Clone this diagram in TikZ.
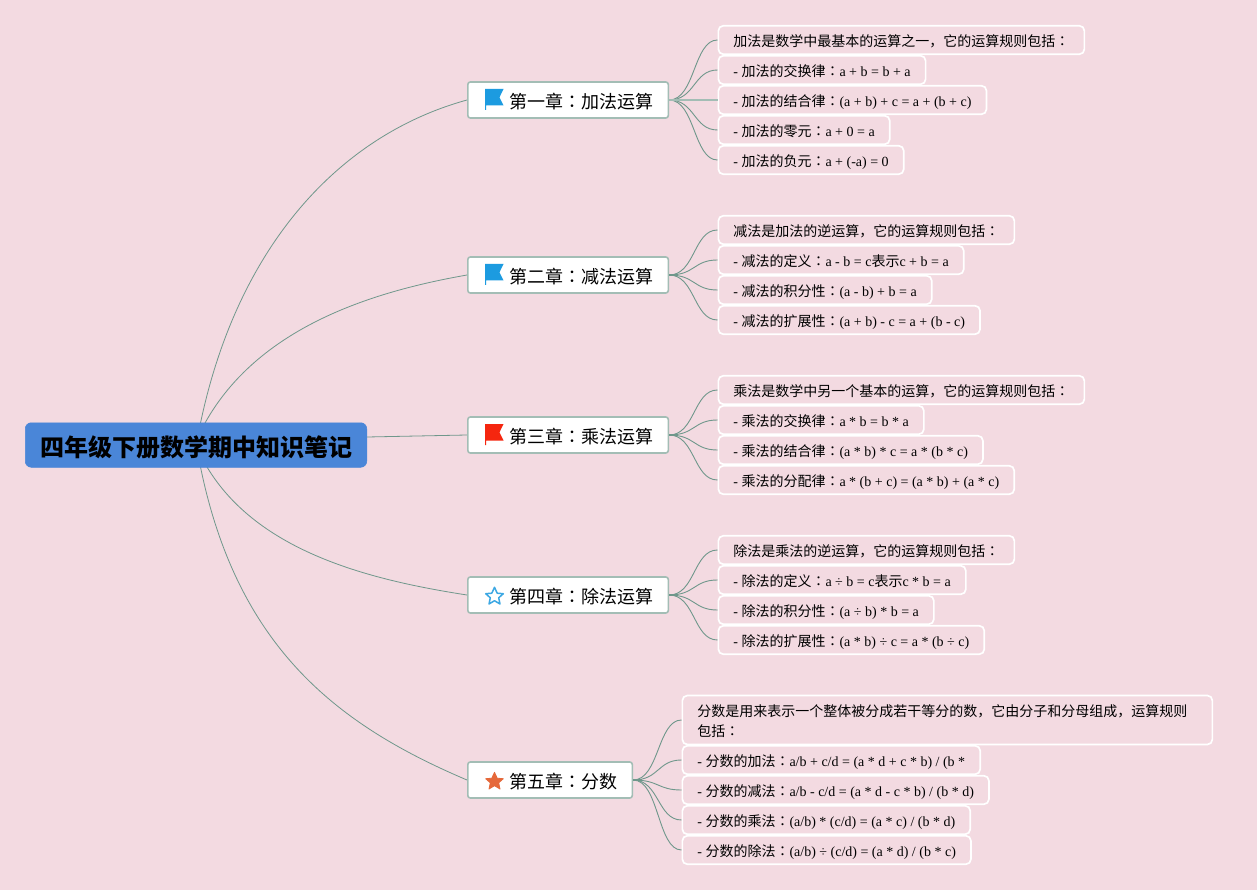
\documentclass[tikz,border=0pt]{standalone}
\usepackage{fontspec}
\setmainfont{Liberation Serif}
\newfontfamily\cjksc{Noto Sans CJK SC}
\newfontfamily\cjktc{Noto Sans CJK TC}
\newcommand\zh[1]{{\cjksc #1}}
\newcommand\cln{{\cjktc ：}}
\definecolor{bgpink}{HTML}{F3DAE1}
\definecolor{rootblue}{HTML}{4A86D8}
\definecolor{chborder}{HTML}{A3BDB5}
\definecolor{linkc}{HTML}{6F978B}
\definecolor{flagblue}{HTML}{1C9BE0}
\definecolor{flagred}{HTML}{F5260F}
\definecolor{staror}{HTML}{E5683A}
\definecolor{starblue}{HTML}{3DA8E3}
\tikzset{
  rootbox/.style={draw=rootblue,fill=rootblue,rounded corners=6pt,line width=0.5pt,inner sep=0pt,minimum height=44.5pt,minimum width=341.5pt,font=\fontsize{24}{28}\selectfont\cjksc\bfseries,text height=24pt,text depth=2pt},
  chbox/.style={draw=chborder,fill=white,rounded corners=2.5pt,line width=1.6pt,anchor=west,minimum height=36pt,inner sep=0pt,font=\fontsize{18}{22}\selectfont\cjksc,text height=19pt,text depth=2.4pt},
  leaf/.style={draw=white,rounded corners=5pt,line width=1.7pt,anchor=west,minimum height=28.5pt,inner xsep=15pt,inner ysep=0pt,font=\fontsize{14}{20}\selectfont,text height=15.5pt,text depth=2pt},
  tallleaf/.style={draw=white,rounded corners=5pt,line width=1.7pt,anchor=west,minimum height=49pt,inner xsep=15pt,inner ysep=0pt,align=left,text width=500pt,font=\fontsize{14}{20}\selectfont},
  link/.style={draw=linkc,line width=0.8pt},
  sublink/.style={draw=linkc,line width=0.9pt},
  stub/.style={draw=linkc,line width=1.6pt},
  straight/.style={draw=chborder,line width=1.5pt},
  pics/flagicon/.style={code={
    \fill[#1] (0,0) -- (18.5,0) -- (14.5,8.3) -- (18.5,16.5) -- (1.2,16.5) -- (1.2,21) -- (0,21) -- cycle;
  }},
  pics/staricon/.style={code={
    \path[#1] (0,-9.2) -- (2.7,-3.3) -- (8.8,-2.8) -- (4.2,1.3) -- (5.5,7.5) -- (0,4.2) -- (-5.5,7.5) -- (-4.2,1.3) -- (-8.8,-2.8) -- (-2.7,-3.3) -- cycle;
  }}
}
\begin{document}
\begin{tikzpicture}[x=1pt,y=-1pt]
\fill[bgpink] (0,0) rectangle (1257,890);
\useasboundingbox (0,0) rectangle (1257,890);
\coordinate (ra) at (200.5,423);
\coordinate (rb) at (205,423);
\coordinate (rc) at (207,467);
\coordinate (rd) at (200.5,467);
\coordinate (re) at (367,437);
\coordinate (c1w) at (467,100);
\coordinate (c2w) at (467,275);
\coordinate (c3w) at (467,435);
\coordinate (c4w) at (467,595);
\coordinate (c5w) at (467,780);
\draw[link] (ra) .. controls (238,245) and (340,135) .. (c1w);
\draw[link] (rb) .. controls (258,328) and (370,292) .. (c2w);
\draw[link] (re) -- (c3w);
\draw[link] (rc) .. controls (258,552) and (370,580) .. (c4w);
\draw[link] (rd) .. controls (238,650) and (340,726) .. (c5w);

\node[rootbox] (root) at (196,445) {四年级下册数学期中知识笔记};

\node[chbox] (c1) at (467,100) {\hspace{42pt}第一章\cln 加法运算\hspace{14.5pt}\null};
\node[chbox] (c2) at (467,275) {\hspace{42pt}第二章\cln 减法运算\hspace{14.5pt}\null};
\node[chbox] (c3) at (467,435) {\hspace{42pt}第三章\cln 乘法运算\hspace{14.5pt}\null};
\node[chbox] (c4) at (467,595) {\hspace{42pt}第四章\cln 除法运算\hspace{14.5pt}\null};
\node[chbox] (c5) at (467,780) {\hspace{42pt}第五章\cln 分数\hspace{14.5pt}\null};

\pic at (485,89) {flagicon=flagblue};
\pic at (485,264) {flagicon=flagblue};
\pic at (485,424) {flagicon=flagred};
\pic at (494.5,596.5) {staricon={draw=starblue,line width=1.5pt,line join=round}};
\pic at (494.5,781.5) {staricon={fill=staror,draw=staror,line width=0.8pt,line join=round}};

\node[leaf] (a1) at (717.5,40) {\zh{加法是数学中最基本的运算之一，它的运算规则包括}\cln};
\node[leaf] (a2) at (717.5,70) {- \zh{加法的交换律}\cln a + b = b + a};
\node[leaf] (a3) at (717.5,100) {- \zh{加法的结合律}\cln (a + b) + c = a + (b + c)};
\node[leaf] (a4) at (717.5,130) {- \zh{加法的零元}\cln a + 0 = a};
\node[leaf] (a5) at (717.5,160) {- \zh{加法的负元}\cln a + (-a) = 0};
\node[leaf] (b1) at (717.5,230) {\zh{减法是加法的逆运算，它的运算规则包括}\cln};
\node[leaf] (b2) at (717.5,260) {- \zh{减法的定义}\cln a - b = c\zh{表示}c + b = a};
\node[leaf] (b3) at (717.5,290) {- \zh{减法的积分性}\cln (a - b) + b = a};
\node[leaf] (b4) at (717.5,320) {- \zh{减法的扩展性}\cln (a + b) - c = a + (b - c)};
\node[leaf] (d1) at (717.5,390) {\zh{乘法是数学中另一个基本的运算，它的运算规则包括}\cln};
\node[leaf] (d2) at (717.5,420) {- \zh{乘法的交换律}\cln a * b = b * a};
\node[leaf] (d3) at (717.5,450) {- \zh{乘法的结合律}\cln (a * b) * c = a * (b * c)};
\node[leaf] (d4) at (717.5,480) {- \zh{乘法的分配律}\cln a * (b + c) = (a * b) + (a * c)};
\node[leaf] (e1) at (717.5,550) {\zh{除法是乘法的逆运算，它的运算规则包括}\cln};
\node[leaf] (e2) at (717.5,580) {- \zh{除法的定义}\cln a ÷ b = c\zh{表示}c * b = a};
\node[leaf] (e3) at (717.5,610) {- \zh{除法的积分性}\cln (a ÷ b) * b = a};
\node[leaf] (e4) at (717.5,640) {- \zh{除法的扩展性}\cln (a * b) ÷ c = a * (b ÷ c)};
\node[tallleaf] (f1) at (681.5,720) {\rule{0pt}{14.5pt}\zh{分数是用来表示一个整体被分成若干等分的数，它由分子和分母组成，运算规则}\\\zh{包括}\cln};
\node[leaf] (f2) at (681.5,760) {- \zh{分数的加法}\cln a/b + c/d = (a * d + c * b) / (b *};
\node[leaf] (f3) at (681.5,790) {- \zh{分数的减法}\cln a/b - c/d = (a * d - c * b) / (b * d)};
\node[leaf] (f4) at (681.5,820) {- \zh{分数的乘法}\cln (a/b) * (c/d) = (a * c) / (b * d)};
\node[leaf] (f5) at (681.5,850) {- \zh{分数的除法}\cln (a/b) ÷ (c/d) = (a * d) / (b * c)};

\foreach \p/\kidlist in {c1/{a1,a2,a3,a4,a5},c2/{b1,b2,b3,b4},c3/{d1,d2,d3,d4},c4/{e1,e2,e3,e4},c5/{f1,f2,f3,f4,f5}}{
  \draw[stub] (\p.east) -- ++(9,0);
  \foreach \k in \kidlist {
    \draw[sublink] (\p.east) .. controls +(26,0) and +(-24,0) .. (\k.west);
  }
}
\draw[straight] (c1.east) -- (a3.west);
\end{tikzpicture}
\end{document}
